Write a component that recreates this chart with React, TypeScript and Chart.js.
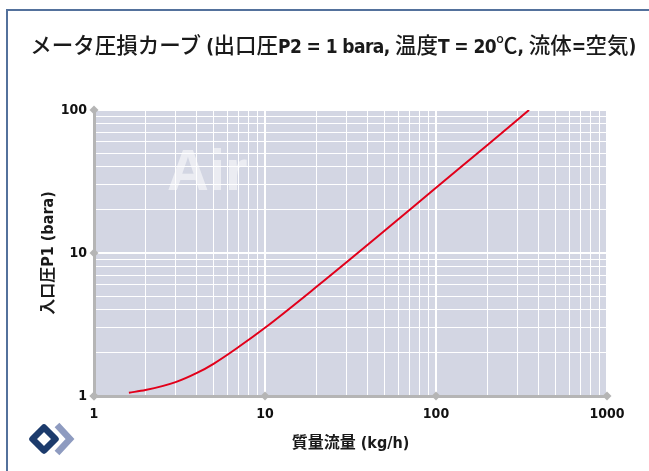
import React, { useEffect, useRef } from "react";
import { Chart, registerables } from "chart.js";

Chart.register(...registerables);

// ---- data ----
const flowRates = [1.6, 2, 3, 4, 5, 7, 10, 20, 50, 100, 200, 350];
const inletPressures = [1.055, 1.1, 1.25, 1.45, 1.68, 2.2, 3.0, 5.8, 14.3, 28.6, 57, 100];
const xMajorTicks = [1, 10, 100, 1000];
const yMajorTicks = [1, 10, 100];
// title split into [text, isLatin] pieces
const titleParts: [string, boolean][] = [
  ["メータ圧損カーブ", false],
  [" (", true],
  ["出口圧", false],
  ["P2 = 1 bara, ", true],
  ["温度", false],
  ["T = 20", true],
  ["℃", false],
  [", ", true],
  ["流体", false],
  ["=", true],
  ["空気", false],
  [")", true],
];
const xTitleText = "質量流量 (kg/h)";
const yTitleText = "入口圧P1 (bara)";
const watermarkText = "Air";

// ---- styles ----
const NARROW =
  "'Liberation Sans Narrow', 'Arial Narrow', 'DejaVu Sans Condensed', 'Noto Sans CJK JP', sans-serif";
const PLOT_BG = "#d3d6e3";
const AXIS_GRAY = "#b5b5b5";
const LINE_RED = "#e2001a";
const FRAME = "#53719c";

function logTicks(majors: number[]) {
  const vals: number[] = [];
  for (let i = 0; i < majors.length - 1; i++) {
    for (let k = 1; k <= 9; k++) vals.push(majors[i] * k);
  }
  vals.push(majors[majors.length - 1]);
  return vals;
}

const decorPlugin = {
  id: "decor",
  beforeDraw(chart: any) {
    const { ctx, chartArea, width, height } = chart;
    ctx.save();
    ctx.fillStyle = "#ffffff";
    ctx.fillRect(0, 0, width, height);
    ctx.fillStyle = FRAME;
    ctx.fillRect(6, 9, 2, height - 9);
    ctx.fillRect(6, 9, width - 6, 2);
    ctx.fillStyle = PLOT_BG;
    ctx.fillRect(chartArea.left, chartArea.top, chartArea.right - chartArea.left, chartArea.bottom - chartArea.top);
    ctx.restore();
  },
  beforeDatasetsDraw(chart: any) {
    const { ctx } = chart;
    ctx.save();
    ctx.fillStyle = "rgba(255,255,255,0.55)";
    ctx.font = "bold 58px 'Liberation Sans', Arial, sans-serif";
    ctx.textBaseline = "alphabetic";
    ctx.textAlign = "left";
    ctx.fillText(watermarkText, 167, 190);
    ctx.restore();
  },
  afterDraw(chart: any) {
    const { ctx, chartArea, scales } = chart;
    ctx.save();
    ctx.fillStyle = AXIS_GRAY;
    const diamond = (x: number, y: number, r: number) => {
      ctx.beginPath();
      ctx.moveTo(x, y - r);
      ctx.lineTo(x + r, y);
      ctx.lineTo(x, y + r);
      ctx.lineTo(x - r, y);
      ctx.closePath();
      ctx.fill();
    };
    xMajorTicks.forEach((v) => diamond(scales.x.getPixelForValue(v), chartArea.bottom, 4.5));
    yMajorTicks.forEach((v) => diamond(chartArea.left, scales.y.getPixelForValue(v), 4.5));

    // logo
    ctx.lineJoin = "round";
    ctx.strokeStyle = "#1c3b6c";
    ctx.lineWidth = 6.5;
    const cx = 44, cy = 439, d = 11.5;
    ctx.beginPath();
    ctx.moveTo(cx, cy - d);
    ctx.lineTo(cx + d, cy);
    ctx.lineTo(cx, cy + d);
    ctx.lineTo(cx - d, cy);
    ctx.closePath();
    ctx.stroke();
    ctx.strokeStyle = "#8e9bc0";
    ctx.lineJoin = "miter";
    ctx.beginPath();
    ctx.moveTo(57, 425);
    ctx.lineTo(70, 439);
    ctx.lineTo(57, 453);
    ctx.stroke();
    ctx.restore();
  },
};

export default function App() {
  const ref = useRef<HTMLCanvasElement | null>(null);

  useEffect(() => {
    document.body.style.margin = "0";
    if (!ref.current) return;
    const chart = new Chart(ref.current, {
      type: "line",
      data: {
        datasets: [
          {
            data: flowRates.map((x, i) => ({ x, y: inletPressures[i] })),
            borderColor: LINE_RED,
            borderWidth: 2,
            pointRadius: 0,
            cubicInterpolationMode: "monotone",
            fill: false,
          },
        ],
      },
      options: {
        responsive: false,
        animation: false,
        layout: { padding: { left: 0, right: 42, top: 110, bottom: 0 } },
        plugins: {
          legend: { display: false },
          tooltip: { enabled: false },
          title: { display: false },
        },
        scales: {
          x: {
            type: "logarithmic",
            min: 1,
            max: 1000,
            afterBuildTicks: (s: any) => {
              s.ticks = logTicks(xMajorTicks).map((v) => ({ value: v, major: xMajorTicks.includes(v) }));
            },
            afterFit: (s: any) => {
              s.height = 75;
            },
            ticks: {
              autoSkip: false,
              maxRotation: 0,
              padding: 10,
              color: "#111",
              font: { family: NARROW, size: 14, weight: "bold" },
              callback: (v: any) => (xMajorTicks.includes(Number(v)) ? String(v) : ""),
            },
            grid: {
              color: "#ffffff",
              drawTicks: false,
              lineWidth: (c: any) => (c.tick && xMajorTicks.includes(c.tick.value) ? 2 : 1),
            },
            border: { display: true, color: AXIS_GRAY, width: 3 },
            title: {
              display: true,
              text: xTitleText,
              color: "#1a1a1a",
              font: { family: NARROW, size: 16, weight: "bold", lineHeight: 1.2 },
              padding: { top: 0, bottom: 18 },
            },
          },
          y: {
            type: "logarithmic",
            min: 1,
            max: 100,
            afterBuildTicks: (s: any) => {
              s.ticks = logTicks(yMajorTicks).map((v) => ({ value: v, major: yMajorTicks.includes(v) }));
            },
            afterFit: (s: any) => {
              s.width = 94;
            },
            ticks: {
              autoSkip: false,
              padding: 7,
              color: "#111",
              font: { family: NARROW, size: 14, weight: "bold" },
              callback: (v: any) => (yMajorTicks.includes(Number(v)) ? String(v) : ""),
            },
            grid: {
              color: "#ffffff",
              drawTicks: false,
              lineWidth: (c: any) => (c.tick && yMajorTicks.includes(c.tick.value) ? 2 : 1),
            },
            border: { display: true, color: AXIS_GRAY, width: 3 },
            title: {
              display: true,
              text: yTitleText,
              color: "#1a1a1a",
              font: { family: NARROW, size: 16, weight: "bold", lineHeight: 1.2 },
              padding: { top: 39, bottom: 0 },
            },
          },
        },
      } as any,
      plugins: [decorPlugin],
    });
    return () => chart.destroy();
  }, []);

  return (
    <div style={{ position: "absolute", left: 0, top: 0, width: 649, height: 471 }}>
      <canvas ref={ref} width={649} height={471} style={{ width: 649, height: 471, display: "block" }} />
      <div
        style={{
          position: "absolute",
          left: 333,
          top: 31,
          transform: "translateX(-50%)",
          whiteSpace: "nowrap",
          lineHeight: "26px",
          color: "#1a1a1a",
        }}
      >
        {titleParts.map(([t, latin], i) => (
          <span
            key={i}
            style={
              latin
                ? {
                    fontFamily: "'DejaVu Sans Condensed', sans-serif",
                    fontWeight: "bold",
                    fontSize: 19,
                    letterSpacing: "-0.6px",
                    whiteSpace: "pre",
                  }
                : { fontFamily: "'Noto Sans CJK JP', sans-serif", fontWeight: 500, fontSize: 21.5 }
            }
          >
            {t}
          </span>
        ))}
      </div>
    </div>
  );
}
